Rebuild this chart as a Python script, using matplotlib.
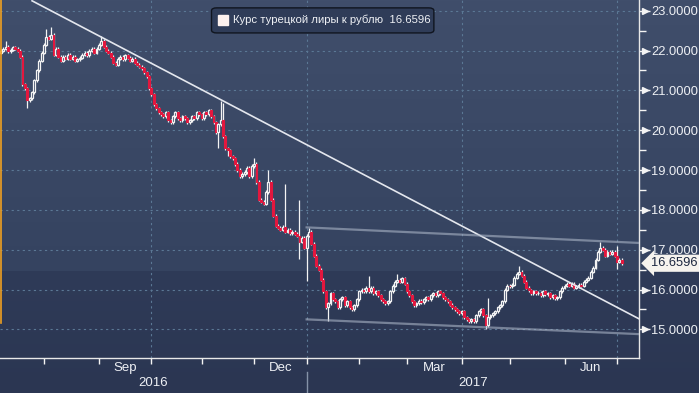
import numpy as np
import pandas as pd
import matplotlib
matplotlib.use("Agg")
import matplotlib.pyplot as plt
from matplotlib.patches import Rectangle, FancyBboxPatch
from matplotlib.transforms import blended_transform_factory

plt.rcParams['font.family'] = ['Liberation Sans', 'DejaVu Sans']

# daily TRY/RUB, one candle per business day starting here
START = "2016-07-06"
first_open = 21.95

closes = [
    22.00, 22.05, 22.10, 21.98, 22.02, 22.08, 22.05, 22.00, 21.85, 21.15,
    21.05, 20.75, 20.80, 20.95, 21.25, 21.50, 21.75, 21.95, 22.15, 22.35,
    22.30, 22.40, 21.90, 22.05, 21.85, 21.75, 21.85, 21.80, 21.90, 21.80,
    21.85, 21.75, 21.78, 21.82, 21.90, 21.95, 21.88, 22.00, 22.05, 21.95,
    22.05, 22.15, 22.25, 22.10, 22.00, 21.95, 21.85, 21.70, 21.65, 21.80,
    21.85, 21.78, 21.88, 21.82, 21.75, 21.80, 21.70, 21.65, 21.60, 21.55,
    21.45, 21.35, 21.05, 20.90, 20.65, 20.55, 20.45, 20.40, 20.35, 20.45,
    20.25, 20.20, 20.35, 20.45, 20.30, 20.25, 20.35, 20.30, 20.20, 20.25,
    20.35, 20.30, 20.45, 20.40, 20.30, 20.45, 20.40, 20.50, 20.35, 20.20,
    19.95, 20.15, 20.25, 19.85, 19.55, 19.50, 19.35, 19.30, 19.15, 19.00,
    18.85, 18.90, 18.95, 19.05, 18.85, 19.10, 19.15, 18.70, 18.25, 18.20,
    18.15, 18.45, 18.70, 18.25, 17.85, 17.60, 17.55, 17.50, 17.58, 17.45,
    17.50, 17.42, 17.45, 17.40, 17.35, 17.20, 17.30, 17.05, 17.35, 17.45,
    17.15, 16.85, 16.60, 16.50, 16.25, 15.95, 15.55, 15.65, 15.90, 15.75,
    15.70, 15.55, 15.75, 15.80, 15.60, 15.70, 15.55, 15.50, 15.60, 15.75,
    15.95, 16.00, 15.95, 16.05, 15.95, 16.05, 15.90, 15.95, 15.85, 15.75,
    15.70, 15.65, 15.70, 15.95, 16.10, 16.20, 16.25, 16.20, 16.28, 16.15,
    15.95, 15.85, 15.70, 15.60, 15.65, 15.72, 15.68, 15.75, 15.80, 15.75,
    15.85, 15.90, 15.85, 15.95, 15.90, 15.80, 15.75, 15.70, 15.62, 15.55,
    15.50, 15.45, 15.40, 15.45, 15.30, 15.25, 15.20, 15.25, 15.20, 15.35,
    15.45, 15.50, 15.35, 15.10, 15.30, 15.35, 15.40, 15.45, 15.55, 15.60,
    15.70, 16.00, 16.10, 16.08, 16.12, 16.30, 16.40, 16.45, 16.35, 16.20,
    16.05, 15.98, 15.90, 15.95, 15.90, 15.92, 15.85, 15.95, 15.88, 15.90,
    15.80, 15.85, 15.78, 15.80, 15.95, 16.05, 16.10, 16.15, 16.10, 16.15,
    16.05, 16.08, 16.12, 16.10, 16.20, 16.25, 16.30, 16.45, 16.55, 16.75,
    16.95, 17.05, 17.00, 16.85, 16.95, 16.90, 16.95, 16.85, 16.70, 16.75,
    16.6596,
]

# long wicks that stand out in the picture (candle index -> price)
spike_highs = {2: 22.2, 19: 22.5, 21: 22.55, 42: 22.32, 92: 20.7, 93: 20.65,
               106: 19.25, 112: 18.95, 119: 18.6, 125: 18.2, 129: 17.5,
               154: 16.3, 166: 16.35, 204: 15.75, 217: 16.55, 251: 17.15,
               258: 17.05}
spike_lows = {11: 20.6, 91: 19.6, 95: 19.4, 125: 16.8, 128: 16.25,
              137: 15.25, 203: 15.05, 258: 16.55}

# trend lines: (dates, prices)
trend_main = (["2016-07-25", "2017-07-14"], [23.25, 15.27])
channel_top = (["2017-01-02", "2017-07-14"], [17.56, 17.17])
channel_bottom = (["2017-01-02", "2017-07-14"], [15.25, 14.88])

series_name = "Курс турецкой лиры к рублю"
last_price = closes[-1]
y_ticks = [15, 16, 17, 18, 19, 20, 21, 22, 23]
month_starts = ["2016-08-01", "2016-09-01", "2016-10-01", "2016-11-01",
                "2016-12-01", "2017-01-01", "2017-02-01", "2017-03-01",
                "2017-04-01", "2017-05-01", "2017-06-01", "2017-07-01",
                "2017-08-01"]
labelled_months = {"2016-09-01": "Sep", "2016-12-01": "Dec",
                   "2017-03-01": "Mar", "2017-06-01": "Jun"}
quarter_starts = ["2016-10-01", "2017-01-01", "2017-04-01", "2017-07-01"]
year_start = "2017-01-01"


def pos(d):
    return float(np.busday_count(START, d))


RED = "#e3173e"
WHITE = "#f4f4f4"
GRID = "#5b7895"
XLIM = (-0.42, 267.2)
YLIM = (14.28, 23.27)

fig = plt.figure(figsize=(6.99, 3.93), dpi=100)

# background gradient
bg = fig.add_axes([0, 0, 1, 1], zorder=0)
t = np.linspace(0, 1, 393)
top = np.array([0x40, 0x4e, 0x6b]) / 255
mid = np.array([0x35, 0x43, 0x60]) / 255
low = np.array([0x2f, 0x3b, 0x58]) / 255
bot = np.array([0x2b, 0x36, 0x52]) / 255
cols = np.where(t[:, None] < 0.69,
                top + (mid - top) * (t[:, None] / 0.69),
                low + (bot - low) * ((t[:, None] - 0.69) / 0.31))
bg.imshow(cols[:, None, :], aspect="auto", extent=[0, 1, 0, 1])
bg.axis("off")

ax = fig.add_axes([0, 35 / 393, 639 / 699, 358 / 393], zorder=1)
ax.patch.set_alpha(0)

n = len(closes)
opens = [first_open] + closes[:-1]
bw = 0.8
for i in range(n):
    o, c = opens[i], closes[i]
    up = c >= o
    h = max(o, c, spike_highs.get(i, 0)) + 0.04
    l = min(o, c, spike_lows.get(i, 99)) - 0.04
    ax.vlines(i, l, h, color=WHITE, lw=0.9, zorder=3)
    lo = min(o, c)
    hgt = max(abs(c - o), 0.02)
    if up:
        ax.add_patch(Rectangle((i - bw / 2, lo), bw, hgt, fc="#34425f",
                               ec=WHITE, lw=0.9, zorder=4))
    else:
        ax.add_patch(Rectangle((i - bw / 2, lo), bw, hgt, fc=RED,
                               ec=RED, lw=0.8, zorder=4))

for (dates, prices), c, a, w in [(trend_main, "#e4e7ee", 1.0, 1.2),
                                 (channel_top, "#aab4c6", 0.6, 1.6),
                                 (channel_bottom, "#aab4c6", 0.6, 1.6)]:
    ax.plot([pos(d) for d in dates], prices, color=c, alpha=a, lw=w, zorder=5)

# grid
for v in y_ticks:
    ax.axhline(v, color=GRID, lw=0.8, ls=(0, (2, 3)), zorder=1)
for d in quarter_starts:
    ax.axvline(pos(d), color=GRID, lw=0.8, ls=(0, (2, 3)), zorder=1)

for s in ["top", "left"]:
    ax.spines[s].set_visible(False)
for s in ["right", "bottom"]:
    ax.spines[s].set_color("#e8e8e8")
    ax.spines[s].set_linewidth(1.0)

ax.yaxis.tick_right()
ax.set_yticks(y_ticks)
ax.set_yticklabels([f"{v:.4f}" for v in y_ticks])
ax.set_yticks([v + 0.5 for v in y_ticks], minor=True)
ax.tick_params(axis="y", which="major", direction="out", length=8, width=1,
               color=WHITE, labelcolor="#eef0f4", labelsize=9.3, pad=1)
ax.tick_params(axis="y", which="minor", direction="out", length=5, width=1,
               color=WHITE)

ax.set_xticks([pos(d) for d in month_starts])
ax.set_xticklabels([])
ax.tick_params(axis="x", direction="out", length=4, width=1, color=WHITE)

# ticks can stretch the view, so fix the limits only now
ax.set_xlim(*XLIM)
ax.set_ylim(*YLIM)

tr_y = blended_transform_factory(ax.transAxes, ax.transData)
ax.plot([1.009] * len(y_ticks), y_ticks, ls="none", marker=">", ms=4,
        color=WHITE, transform=tr_y, clip_on=False, zorder=6)

tr_x = blended_transform_factory(ax.transData, ax.transAxes)
for a, b in zip(month_starts[:-1], month_starts[1:]):
    if a in labelled_months:
        ax.text((pos(a) + pos(b)) / 2, -0.028, labelled_months[a],
                transform=tr_x, ha="center", va="center", fontsize=9.5,
                color="#eef0f4")
x0, x1 = XLIM
ys = pos(year_start)
ax.text((x0 + ys) / 2, -0.07, "2016", transform=tr_x, ha="center",
        va="center", fontsize=9.5, color="#eef0f4")
ax.text((ys + x1) / 2, -0.07, "2017", transform=tr_x, ha="center",
        va="center", fontsize=9.5, color="#eef0f4")
ax.plot([ys, ys], [-0.04, -0.1], transform=tr_x, color="#8592a8", lw=1,
        clip_on=False)

# orange edge marker at the left
fig.add_artist(plt.Line2D([0.0008, 0.0008], [1, 70 / 393], color="#f0a020",
                          lw=1.2, zorder=3))

# legend box
ax.add_patch(FancyBboxPatch((0.331, 0.908), 0.348, 0.07,
                            boxstyle="round,pad=0,rounding_size=0.008",
                            transform=ax.transAxes, fc="#2f3c58", ec="#10151f",
                            lw=1.0, zorder=6))
ax.plot([0.349], [0.944], marker="s", ms=7, color="#fdf1ee", ls="none",
        transform=ax.transAxes, zorder=7)
ax.text(0.364, 0.944, f"{series_name}  {last_price:.4f}",
        transform=ax.transAxes, ha="left", va="center", fontsize=8.2,
        color="#eef0f4", zorder=7)

# last price tag
ax.text(1.018, last_price, f"{last_price:.4f}", transform=tr_y, ha="left",
        va="center", fontsize=9.3, color="#1c2740", zorder=8,
        bbox=dict(boxstyle="larrow,pad=0.2", fc="#f6f3ee", ec="none"))

ax.set_xlim(*XLIM)
ax.set_ylim(*YLIM)

fig.savefig("out.png", dpi=100)
